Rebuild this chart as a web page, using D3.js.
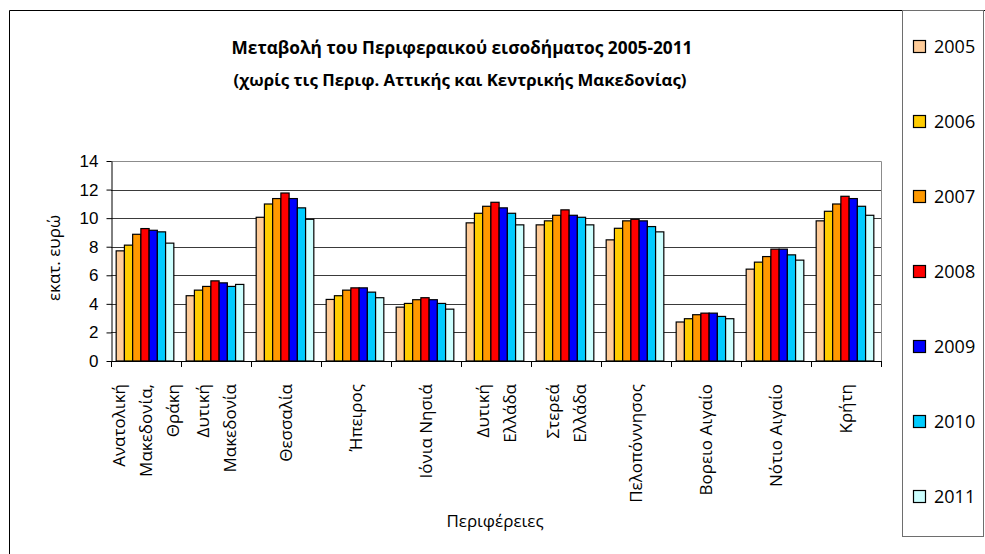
<!DOCTYPE html>
<html>
<head>
<meta charset="utf-8">
<script src="https://cdn.jsdelivr.net/npm/d3@7"></script>
<style>
  body { margin: 0; background: #fff; }
  svg { display: block; font-family: "Open Sans", sans-serif; }
</style>
</head>
<body>
<div id="chart"></div>
<script>
// region labels, "|" marks a line break in the tick label
var categories = [
    "Ανατολική|Μακεδονία,|Θράκη", "Δυτική|Μακεδονία", "Θεσσαλία", "Ήπειρος", "Ιόνια Νησιά",
    "Δυτική|Ελλάδα", "Στερεά|Ελλάδα", "Πελοπόννησος", "Βορειο Αιγαίο", "Νότιο Αιγαίο", "Κρήτη"
];
var years = ["2005", "2006", "2007", "2008", "2009", "2010", "2011"];
var v2005 = [7.71, 4.57, 10.06, 4.31, 3.77, 9.67, 9.53, 8.48, 2.73, 6.43, 9.81];
var v2006 = [8.11, 4.96, 10.99, 4.57, 4.03, 10.34, 9.81, 9.29, 2.96, 6.92, 10.48];
var v2007 = [8.87, 5.22, 11.37, 4.96, 4.29, 10.83, 10.20, 9.81, 3.24, 7.31, 10.99];
var v2008 = [9.27, 5.61, 11.76, 5.12, 4.43, 11.11, 10.58, 9.92, 3.35, 7.83, 11.53];
var v2009 = [9.15, 5.47, 11.37, 5.12, 4.29, 10.72, 10.20, 9.81, 3.35, 7.83, 11.37];
var v2010 = [9.04, 5.22, 10.72, 4.82, 4.03, 10.34, 10.06, 9.41, 3.12, 7.43, 10.83];
var v2011 = [8.25, 5.36, 9.92, 4.43, 3.63, 9.53, 9.53, 9.04, 2.96, 7.06, 10.20];
var yTicks = [0, 2, 4, 6, 8, 10, 12, 14];

var series = [v2005, v2006, v2007, v2008, v2009, v2010, v2011];
var colors = ["#FFCC99", "#FFCC00", "#FF9900", "#FF0000", "#0000FF", "#00CCFF", "#CCFFFF"];

var width = 985, height = 554;
var plot = { left: 111, right: 881, top: 161, bottom: 361 };

var svg = d3.select("#chart").append("svg")
    .attr("width", width)
    .attr("height", height);

// outer chart frame (runs off the right/bottom of the picture)
svg.append("path")
    .attr("d", "M9.5," + (height + 5) + "V10.5H" + (width + 5))
    .attr("fill", "none")
    .attr("stroke", "#000");

var x0 = d3.scaleBand().domain(d3.range(categories.length)).range([plot.left, plot.right]);
var gap = x0.bandwidth() / 8.5 * 1.5;
var x1 = d3.scaleBand().domain(years).range([gap / 2 - 1, x0.bandwidth() - gap / 2 - 1]);
var y = d3.scaleLinear().domain([0, 14]).range([plot.bottom, plot.top]);
var color = d3.scaleOrdinal().domain(years).range(colors);

// gridlines
svg.append("g")
    .selectAll("line")
    .data(yTicks.filter(function (d) { return d > 0 && d < 14; }))
    .join("line")
    .attr("x1", plot.left).attr("x2", plot.right)
    .attr("y1", function (d) { return Math.round(y(d)) + 0.5; })
    .attr("y2", function (d) { return Math.round(y(d)) + 0.5; })
    .attr("stroke", "#3a3a3a");

// plot area border (top and right in grey)
svg.append("path")
    .attr("d", "M" + plot.left + "," + (plot.top + 0.5) + "H" + (plot.right + 0.5) + "V" + plot.bottom)
    .attr("fill", "none")
    .attr("stroke", "#8c8c8c");

// bars
var rows = categories.map(function (c, i) {
    return years.map(function (yr, j) { return { cat: i, year: yr, value: series[j][i] }; });
});
svg.append("g")
    .selectAll("g")
    .data(rows)
    .join("g")
    .attr("transform", function (d, i) { return "translate(" + x0(i) + ",0)"; })
    .selectAll("rect")
    .data(function (d) { return d; })
    .join("rect")
    .attr("x", function (d) { return x1(d.year); })
    .attr("width", x1.bandwidth())
    .attr("y", function (d) { return y(d.value); })
    .attr("height", function (d) { return y(0) - y(d.value); })
    .attr("fill", function (d) { return color(d.year); })
    .attr("stroke", "#000")
    .attr("stroke-width", 1.2);

// y axis
var yAxis = svg.append("g")
    .attr("transform", "translate(" + (plot.left + 0.5) + ",0)")
    .call(d3.axisLeft(y).tickValues(yTicks).tickSize(5).tickSizeOuter(0).tickPadding(8));
yAxis.select(".domain").attr("stroke", "#000");
yAxis.selectAll("text").style("font-size", "17px").attr("fill", "#000");

// x axis line + ticks at category boundaries
svg.append("line")
    .attr("x1", plot.left).attr("x2", plot.right + 1)
    .attr("y1", plot.bottom + 0.5).attr("y2", plot.bottom + 0.5)
    .attr("stroke", "#000");
svg.append("g")
    .selectAll("line")
    .data(d3.range(categories.length + 1))
    .join("line")
    .attr("x1", function (i) { return Math.round(plot.left + i * x0.step()) + 0.5; })
    .attr("x2", function (i) { return Math.round(plot.left + i * x0.step()) + 0.5; })
    .attr("y1", plot.bottom).attr("y2", plot.bottom + 6)
    .attr("stroke", "#000");

// rotated category labels
var lineGap = 27;
svg.append("g")
    .selectAll("g")
    .data(categories)
    .join("g")
    .attr("transform", function (d, i) { return "translate(" + (x0(i) + x0.bandwidth() / 2) + "," + 384 + ")"; })
    .each(function (d) {
        var lines = d.split("|");
        var g = d3.select(this);
        lines.forEach(function (t, k) {
            var off = (k - (lines.length - 1) / 2) * lineGap + 6;
            g.append("text")
                .attr("transform", "translate(" + off + ",0) rotate(-90)")
                .attr("text-anchor", "end")
                .style("font-size", "17px")
                .text(t);
        });
    });

// titles
svg.append("text")
    .attr("x", 462).attr("y", 54)
    .attr("text-anchor", "middle")
    .style("font-size", "17.3px").style("font-weight", "bold")
    .text("Μεταβολή του Περιφεραικού εισοδήματος 2005-2011");
svg.append("text")
    .attr("x", 460).attr("y", 86)
    .attr("text-anchor", "middle")
    .style("font-size", "16.8px").style("font-weight", "bold")
    .text("(χωρίς τις Περιφ. Αττικής και Κεντρικής Μακεδονίας)");

svg.append("text")
    .attr("transform", "translate(60,258) rotate(-90)")
    .attr("text-anchor", "middle")
    .style("font-size", "17px")
    .text("εκατ. ευρώ");

svg.append("text")
    .attr("x", 495).attr("y", 527)
    .attr("text-anchor", "middle")
    .style("font-size", "17px")
    .text("Περιφέρειες");

// legend
var ly = d3.scalePoint().domain(years).range([47, 497]);
svg.append("rect")
    .attr("x", 902.5).attr("y", 10.5)
    .attr("width", 81).attr("height", 526)
    .attr("fill", "#fff")
    .attr("stroke", "#6e6e6e");
var item = svg.append("g")
    .selectAll("g")
    .data(years)
    .join("g")
    .attr("transform", function (d) { return "translate(913," + ly(d) + ")"; });
item.append("rect")
    .attr("x", 0.5).attr("y", -6.5)
    .attr("width", 12).attr("height", 12)
    .attr("fill", function (d) { return color(d); })
    .attr("stroke", "#000")
    .attr("stroke-width", 1.2);
item.append("text")
    .attr("x", 21).attr("y", 6)
    .style("font-size", "18px")
    .text(function (d) { return d; });
</script>
</body>
</html>
